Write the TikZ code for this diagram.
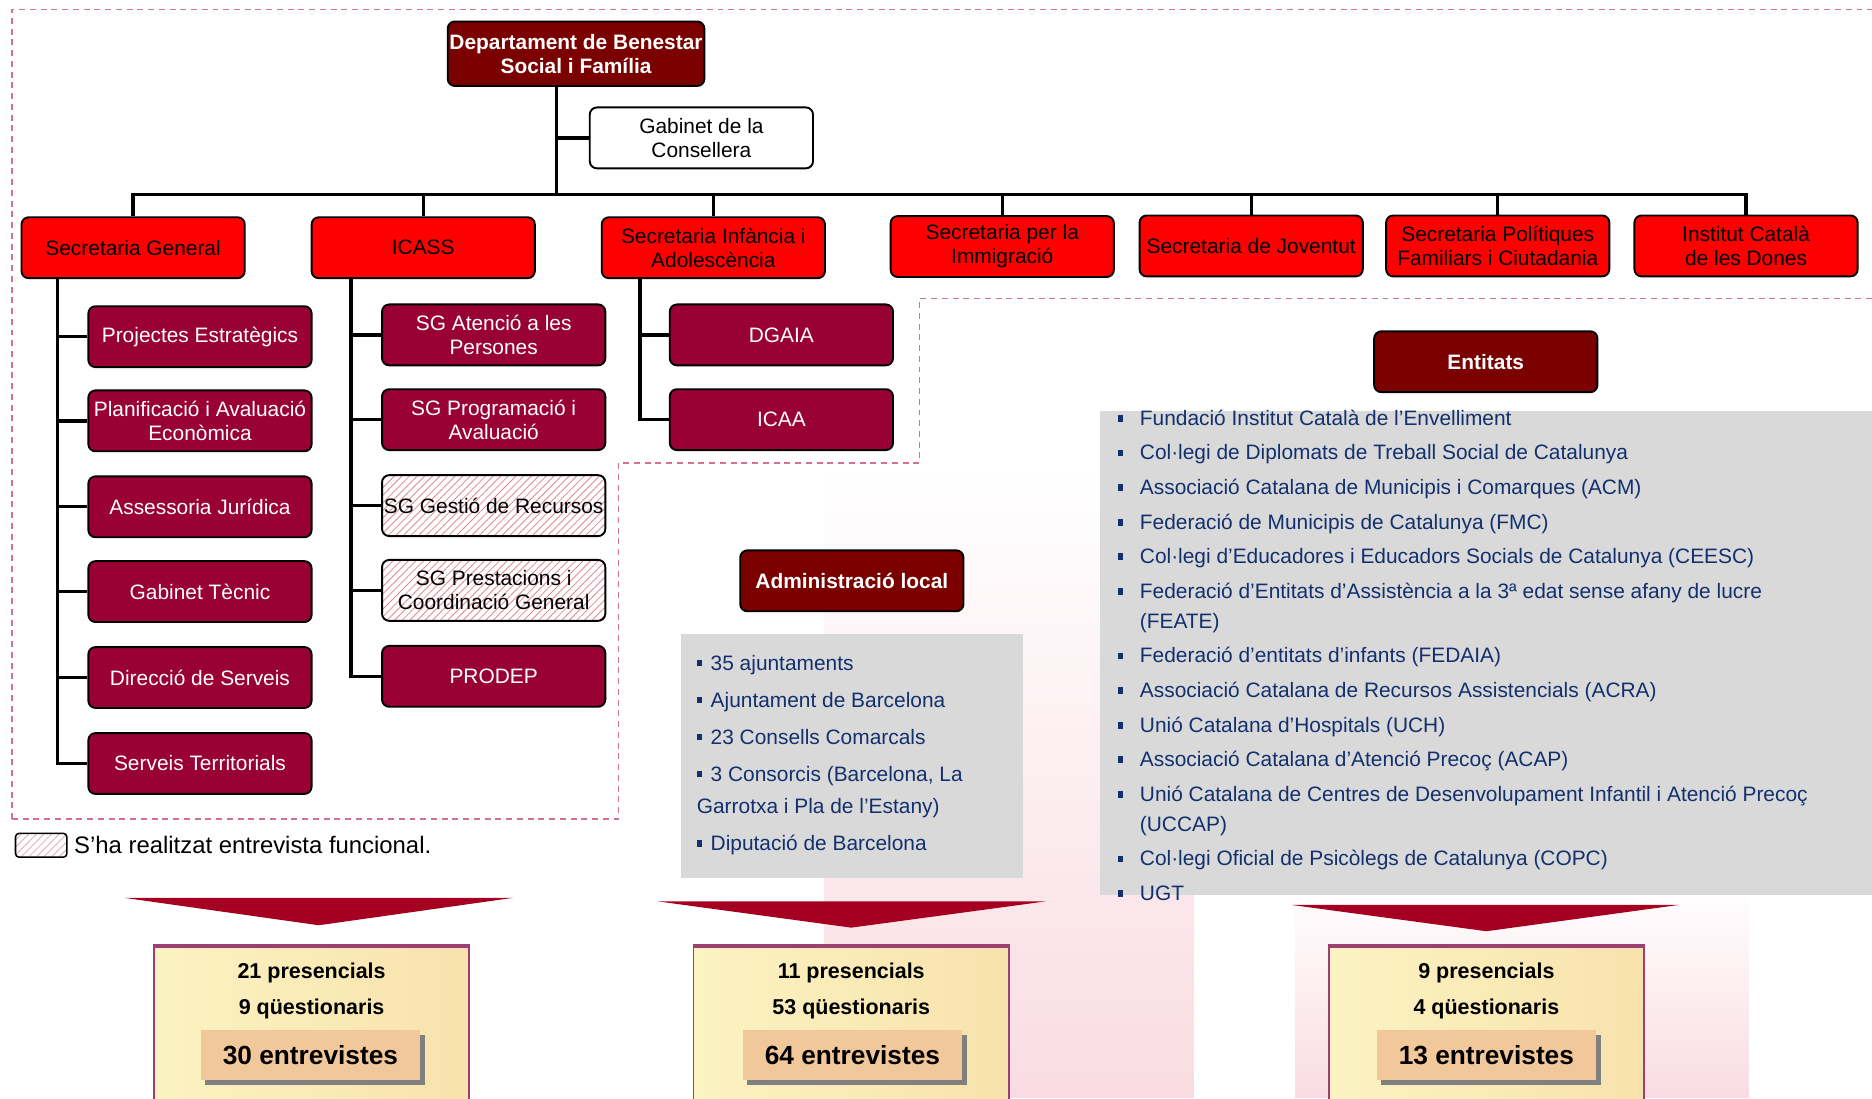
\documentclass[tikz,border=0pt]{standalone}
\usepackage{fontspec}
\setmainfont{Liberation Sans}
\usetikzlibrary{patterns.meta,shadows,fadings}

\definecolor{deptred}{HTML}{7B0000}
\definecolor{secred}{HTML}{FF0000}
\definecolor{subred}{HTML}{990033}
\definecolor{hatchred}{HTML}{E0889A}
\definecolor{dashpink}{HTML}{D4728C}
\definecolor{listgrey}{HTML}{D9D9D9}
\definecolor{listblue}{HTML}{13306E}
\definecolor{arrowred}{HTML}{A50021}
\definecolor{boxedge}{HTML}{9E3F74}
\definecolor{tanbox}{HTML}{F2C79A}
\definecolor{bgpink}{HTML}{F9DCE2}
\definecolor{yelA}{HTML}{FBF3C2}
\definecolor{yelB}{HTML}{FFFFCC}
\definecolor{yelC}{HTML}{F8E2AC}

\newcommand{\sqbul}{\raisebox{3pt}{\rule{4.6pt}{5.6pt}}}

\tikzset{
  orgbox/.style={draw=black, line width=1.6pt, rounded corners=6pt, minimum width=187pt,
    minimum height=51pt, inner sep=0pt, align=center, font=\fontsize{17.5}{20}\selectfont},
  headbox/.style={orgbox, fill=deptred, text=white, font=\bfseries\fontsize{17.5}{20}\selectfont},
  secbox/.style={orgbox, fill=secred},
  subbox/.style={orgbox, fill=subred, text=white},
  hatchbox/.style={orgbox, preaction={fill=white},
    pattern={Lines[angle=45,distance=4.5pt,line width=0.7pt]}, pattern color=hatchred},
  conn/.style={line width=2.8pt},
  dashline/.style={dashpink, line width=1.3pt, dash pattern=on 5pt off 4pt},
  listtext/.style={anchor=north west, inner sep=0pt, text=listblue, font=\fontsize{17.5}{21}\selectfont},
  greybg/.style={fill=listgrey, inner sep=0pt},
  botbox/.style={draw=boxedge, line width=1.2pt, left color=yelA, middle color=yelB, right color=yelC,
    minimum width=264pt, minimum height=132pt, inner sep=0pt},
  countline/.style={font=\bfseries\fontsize{18}{20}\selectfont},
  totalbox/.style={fill=tanbox, minimum width=184pt, minimum height=42pt, inner sep=0pt,
    font=\bfseries\fontsize{22}{24}\selectfont,
    drop shadow={shadow xshift=4pt, shadow yshift=-4pt, fill=black!50, opacity=1}},
  downarrow/.style={fill=arrowred}
}

\begin{document}
\begin{tikzpicture}[x=1pt,y=-1pt]
\useasboundingbox (0,0) rectangle (1568,920);

\fill[bgpink, path fading=north] (690,390) rectangle (1000,920);
\fill[bgpink, path fading=north] (1085,740) rectangle (1465,920);

\draw[dashline] (10,686) -- (10,8) -- (1568,8);
\draw[dashline] (10,686) -- (518,686) -- (518,388) -- (770,388) -- (770,250) -- (1568,250);

\node[headbox, minimum width=215pt, minimum height=54pt] (dept) at (482.5,45) {Departament de Benestar\\Social i Família};
\node[orgbox, fill=white] (gab) at (587.5,115.5) {Gabinet de la\\Consellera};

\node[secbox] (sg) at (111.5,207.5) {Secretaria General};
\node[secbox] (icass) at (354.5,207.5) {ICASS};
\node[secbox] (sia) at (597.5,207.5) {Secretaria Infància i\\Adolescència};
\node[secbox] (simm) at (839.5,206.5) {Secretaria per la\\Immigració};
\node[secbox] (sjov) at (1048,206) {Secretaria de Joventut};
\node[secbox] (spf) at (1254.5,206) {Secretaria Polítiques\\Familiars i Ciutadania};
\node[secbox] (icd) at (1462.5,206) {Institut Català\\de les Dones};

\node[subbox] (spe) at (167.5,282) {Projectes Estratègics};
\node[subbox] (spa) at (167.5,352.5) {Planificació i Avaluació\\Econòmica};
\node[subbox] (saj) at (167.5,424.5) {Assessoria Jurídica};
\node[subbox] (sgt) at (167.5,495.5) {Gabinet Tècnic};
\node[subbox] (sds) at (167.5,567.5) {Direcció de Serveis};
\node[subbox] (sst) at (167.5,639.5) {Serveis Territorials};

\node[subbox] (iap) at (413.5,280.5) {SG Atenció a les\\Persones};
\node[subbox] (ipa) at (413.5,351.5) {SG Programació i\\Avaluació};
\node[hatchbox] (igr) at (413.5,423.5) {SG Gestió de Recursos};
\node[hatchbox] (ipc) at (413.5,494.5) {SG Prestacions i\\Coordinació General};
\node[subbox] (ipr) at (413.5,566.5) {PRODEP};

\node[subbox] (dgaia) at (654.5,280.5) {DGAIA};
\node[subbox] (icaa) at (654.5,351.5) {ICAA};

\coordinate (bar) at (466,163);
\coordinate (sgl) at (48,0);
\coordinate (icl) at (294,0);
\coordinate (ial) at (536,0);

\draw[conn] (dept.south -| bar) -- (bar);
\draw[conn] (gab.west) -- (gab.west -| bar);
\draw[conn] (sg.north) -- (sg.north |- bar) -- (icd.north |- bar) -- (icd.north);
\foreach \s in {icass,sia,simm,sjov,spf}
  \draw[conn] (\s.north) -- (\s.north |- bar);

\draw[conn] (sg.south -| sgl) |- (sst.west);
\foreach \c in {spe,spa,saj,sgt,sds}
  \draw[conn] (\c.west) -- (\c.west -| sgl);
\draw[conn] (icass.south -| icl) |- (ipr.west);
\foreach \c in {iap,ipa,igr,ipc}
  \draw[conn] (\c.west) -- (\c.west -| icl);
\draw[conn] (sia.south -| ial) |- (icaa.west);
\draw[conn] (dgaia.west) -- (dgaia.west -| ial);

\node[draw=black, line width=1.3pt, rounded corners=3pt, minimum width=43pt, minimum height=20pt,
  preaction={fill=white}, pattern={Lines[angle=45,distance=4.5pt,line width=0.7pt]},
  pattern color=hatchred!70] (leg) at (34.5,708) {};
\node[anchor=west, font=\fontsize{20}{24}\selectfont] (legtxt) at ([xshift=2pt]leg.east) {S’ha realitzat entrevista funcional.};

\node[headbox] (ent) at (1244.5,303) {Entitats};
\node[greybg, minimum width=647pt, minimum height=406pt] (entbg) at (1244.5,547) {};
\node[listtext] (entlist) at (936,341.3) {%
\begin{tabular}{@{}l@{\hspace{14pt}}l@{}}
\sqbul & Fundació Institut Català de l’Envelliment\\[8pt]
\sqbul & Col·legi de Diplomats de Treball Social de Catalunya\\[8pt]
\sqbul & Associació Catalana de Municipis i Comarques (ACM)\\[8pt]
\sqbul & Federació de Municipis de Catalunya (FMC)\\[8pt]
\sqbul & Col·legi d'Educadores i Educadors Socials de Catalunya (CEESC)\\[8pt]
\sqbul & Federació d’Entitats d’Assistència a la 3ª edat sense afany de lucre\\[4pt]
 & (FEATE)\\[8pt]
\sqbul & Federació d’entitats d’infants (FEDAIA)\\[8pt]
\sqbul & Associació Catalana de Recursos Assistencials (ACRA)\\[8pt]
\sqbul & Unió Catalana d'Hospitals (UCH)\\[8pt]
\sqbul & Associació Catalana d'Atenció Precoç (ACAP)\\[8pt]
\sqbul & Unió Catalana de Centres de Desenvolupament Infantil i Atenció Precoç\\[4pt]
 & (UCCAP)\\[8pt]
\sqbul & Col·legi Oficial de Psicòlegs de Catalunya (COPC)\\[8pt]
\sqbul & UGT
\end{tabular}};

\node[headbox] (adm) at (713.5,486.5) {Administració local};
\node[greybg, minimum width=287pt, minimum height=204pt] (admbg) at (713.5,633) {};
\node[listtext] (admlist) at (583.5,546.3) {%
\begin{tabular}{@{}l@{}}
\sqbul\hspace{7pt}35 ajuntaments\\[10pt]
\sqbul\hspace{7pt}Ajuntament de Barcelona\\[10pt]
\sqbul\hspace{7pt}23 Consells Comarcals\\[10pt]
\sqbul\hspace{7pt}3 Consorcis (Barcelona, La\\[6pt]
Garrotxa i Pla de l’Estany)\\[10pt]
\sqbul\hspace{7pt}Diputació de Barcelona
\end{tabular}};

\fill[downarrow] (104,752) -- (430,752) -- (267,775) -- cycle;
\fill[downarrow] (551,755) -- (876,755) -- (713,777) -- cycle;
\fill[downarrow] (1082,758) -- (1406,758) -- (1245,780) -- cycle;

\node[botbox] (bl) at (261,859) {};
\node[botbox] (bm) at (713,859) {};
\node[botbox] (br) at (1245,859) {};
\foreach \b in {bl,bm,br}
  \draw[boxedge, line width=2.6pt] (\b.north west) -- (\b.north east);

\node[countline] (bl1) at (261,815) {21 presencials};
\node[countline] (bl2) at (261,845) {9 qüestionaris};
\node[totalbox] (bl3) at (260,884) {30 entrevistes};
\node[countline] (bm1) at (713,815) {11 presencials};
\node[countline] (bm2) at (713,845) {53 qüestionaris};
\node[totalbox] (bm3) at (714,884) {64 entrevistes};
\node[countline] (br1) at (1245,815) {9 presencials};
\node[countline] (br2) at (1245,845) {4 qüestionaris};
\node[totalbox] (br3) at (1245,884) {13 entrevistes};
\end{tikzpicture}
\end{document}
